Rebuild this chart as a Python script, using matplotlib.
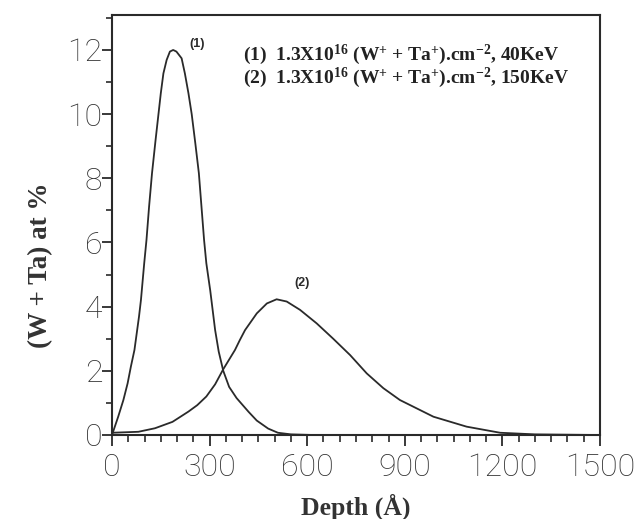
import matplotlib
matplotlib.use("Agg")
import matplotlib.pyplot as plt
from matplotlib.ticker import MultipleLocator

# ---- data ----
depth1 = [0, 19, 35, 48, 58, 69, 76, 83, 89, 99, 106, 114, 123, 134, 150, 158, 168, 178, 188,
          198, 214, 224, 235, 245, 256, 267, 275, 283, 290, 302, 317, 328, 342, 360, 383, 420, 445,
          480, 510, 550, 620, 750]
conc1 = [0, 0.57, 1.09, 1.61, 2.13, 2.65, 3.17, 3.69, 4.21, 5.35, 6.08, 7.12, 8.16, 9.2, 10.65, 11.27,
         11.69, 11.95, 12.0, 11.95, 11.74, 11.27, 10.65, 10.0, 9.1, 8.16, 7.12, 6.08, 5.35, 4.5, 3.27,
         2.6, 2.0, 1.5, 1.15, 0.72, 0.45, 0.2, 0.07, 0.02, 0.0, 0.0]

depth2 = [0, 81, 132, 186, 235, 262, 290, 317, 342, 378, 393, 409, 445, 476, 506, 537, 578, 629, 680,
          732, 783, 834, 885, 988, 1090, 1193, 1300, 1500]
conc2 = [0.07, 0.1, 0.21, 0.41, 0.73, 0.93, 1.2, 1.58, 2.05, 2.65, 2.96, 3.27, 3.79, 4.1, 4.23, 4.16, 3.9,
         3.48, 3.0, 2.49, 1.92, 1.46, 1.09, 0.57, 0.26, 0.07, 0.02, 0.0]

xticks = [0, 300, 600, 900, 1200, 1500]
yticks = [0, 2, 4, 6, 8, 10, 12]
legend_lines = [r"(1)  1.3X10$^{16}$ (W$^{+}$ + Ta$^{+}$).cm$^{-2}$, 40KeV",
                r"(2)  1.3X10$^{16}$ (W$^{+}$ + Ta$^{+}$).cm$^{-2}$, 150KeV"]
curve_labels = ["(1)", "(2)"]

plt.rcParams['mathtext.fontset'] = 'custom'
plt.rcParams['mathtext.rm'] = 'Liberation Serif:bold'
plt.rcParams['mathtext.it'] = 'Liberation Serif:bold'
plt.rcParams['mathtext.bf'] = 'Liberation Serif:bold'

ink = '#2a2a2a'
fig = plt.figure(figsize=(6.35, 5.19), dpi=100)
ax = fig.add_axes([112/635, 1-435/519, 488/635, 420/519])

ax.plot(depth1, conc1, color=ink, lw=1.3, solid_joinstyle='round')
ax.plot(depth2, conc2, color=ink, lw=1.3, solid_joinstyle='round')

ax.set_xlim(0, 1500)
ax.set_ylim(0, 13.09)
ax.set_xticks(xticks)
ax.set_yticks(yticks)
ax.xaxis.set_minor_locator(MultipleLocator(50))
ax.yaxis.set_minor_locator(MultipleLocator(1))
for s in ax.spines.values():
    s.set_linewidth(1.5)
    s.set_color(ink)
ax.tick_params(which='major', direction='out', color=ink, width=1.3, labelcolor='#333333')
ax.tick_params(axis='y', which='major', length=7, pad=0)
ax.tick_params(axis='x', which='major', length=8, pad=5)
ax.tick_params(axis='y', which='minor', direction='out', length=4, width=1.2, color=ink)
ax.tick_params(axis='x', which='minor', direction='out', length=5, width=1.2, color=ink)
for lab in ax.get_xticklabels() + ax.get_yticklabels():
    lab.set_fontfamily('Roboto')
    lab.set_fontweight('light')
    lab.set_fontsize(23)

ax.set_xlabel("Depth (Å)", family='Liberation Serif', fontweight='bold', fontsize=18.5,
              color='#333333', labelpad=8)
ax.set_ylabel("(W + Ta) at %", family='Liberation Serif', fontweight='bold', fontsize=19.5,
              color='#333333')
ax.yaxis.set_label_coords(-0.121, 0.405)

for i, t in enumerate(legend_lines):
    ax.text(0.268, 0.905 - i * 0.055, t, transform=ax.transAxes, family='Liberation Serif',
            fontweight='bold', fontsize=14, color='#222222', va='center', ha='left')

ax.text(261, 12.19, curve_labels[0], family='Liberation Sans', fontweight='bold',
        fontsize=9, color=ink, ha='center', va='center')
ax.text(584, 4.74, curve_labels[1], family='Liberation Sans', fontweight='bold',
        fontsize=9, color=ink, ha='center', va='center')

fig.savefig("out.png", dpi=100)
